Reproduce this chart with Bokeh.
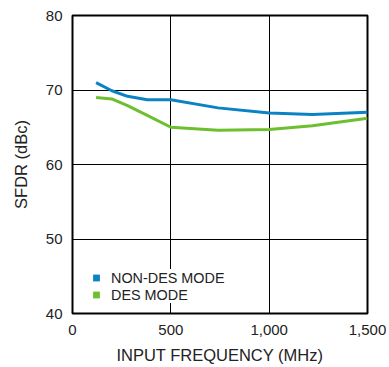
from bokeh.plotting import figure
from bokeh.models import Range1d, FixedTicker, NumeralTickFormatter, Legend, LegendItem
from bokeh.embed import file_html
from bokeh.resources import INLINE

freq = [120, 200, 280, 380, 500, 740, 1000, 1220, 1500]
non_des = [71.0, 69.9, 69.15, 68.7, 68.7, 67.6, 66.9, 66.7, 67.0]
des = [69.0, 68.8, 67.9, 66.6, 65.0, 64.6, 64.7, 65.2, 66.2]
x_ticks = [0, 500, 1000, 1500]
y_ticks = [40, 50, 60, 70, 80]
labels = ["NON-DES MODE", "DES MODE"]
colors = ["#0b82c4", "#6cbf2e"]
x_title = "INPUT FREQUENCY (MHz)"
y_title = "SFDR (dBc)"

p = figure(width=389, height=367, output_backend="svg", toolbar_location=None,
           x_range=Range1d(0, 1500), y_range=Range1d(40, 80),
           min_border_left=72, min_border_right=22, min_border_top=15, min_border_bottom=54)
p.background_fill_color = "white"
p.border_fill_color = "white"
p.outline_line_color = "black"
p.outline_line_width = 2

for ax in (p.xaxis[0], p.yaxis[0]):
    ax.axis_line_color = None
    ax.major_tick_line_color = None
    ax.minor_tick_line_color = None
    ax.major_tick_out = 0
    ax.major_tick_in = 0
    ax.minor_tick_out = 0
    ax.minor_tick_in = 0
    ax.major_label_text_font = "Liberation Sans"
    ax.major_label_text_font_size = "15px"
    ax.major_label_text_color = "#222222"
    ax.axis_label_text_font = "Liberation Sans"
    ax.axis_label_text_font_size = "16.5px"
    ax.axis_label_text_font_style = "normal"
    ax.axis_label_text_color = "#222222"

p.xaxis.ticker = FixedTicker(ticks=x_ticks)
p.yaxis.ticker = FixedTicker(ticks=y_ticks)
p.xaxis.formatter = NumeralTickFormatter(format="0,0")
p.xaxis.major_label_standoff = 11
p.yaxis.major_label_standoff = 10
p.xaxis.axis_label_standoff = 8
p.yaxis.axis_label_standoff = 13
p.xaxis.axis_label = x_title
p.yaxis.axis_label = y_title

p.xgrid.grid_line_color = "black"
p.ygrid.grid_line_color = "black"
p.xgrid.grid_line_width = 1
p.ygrid.grid_line_width = 1

p.line(freq, non_des, line_color=colors[0], line_width=3)
p.line(freq, des, line_color=colors[1], line_width=3)

# legend-only square markers (size 0 on the plot)
r1 = p.scatter(x=freq[:1], y=non_des[:1], marker="square", size=0, fill_color=colors[0], line_color=None)
r2 = p.scatter(x=freq[:1], y=des[:1], marker="square", size=0, fill_color=colors[1], line_color=None)
legend = Legend(items=[LegendItem(label=labels[0], renderers=[r1]),
                       LegendItem(label=labels[1], renderers=[r2])],
                location=(15, 10))
legend.label_text_font = "Liberation Sans"
legend.label_text_font_size = "14.4px"
legend.label_text_color = "#222222"
legend.glyph_width = 18
legend.glyph_height = 17
legend.label_height = 17
legend.label_standoff = 6
legend.spacing = -1
legend.padding = 3
legend.margin = 0
legend.border_line_color = None
legend.background_fill_color = "white"
legend.background_fill_alpha = 1
p.add_layout(legend)

open("out.html", "w").write(file_html(p, INLINE))
